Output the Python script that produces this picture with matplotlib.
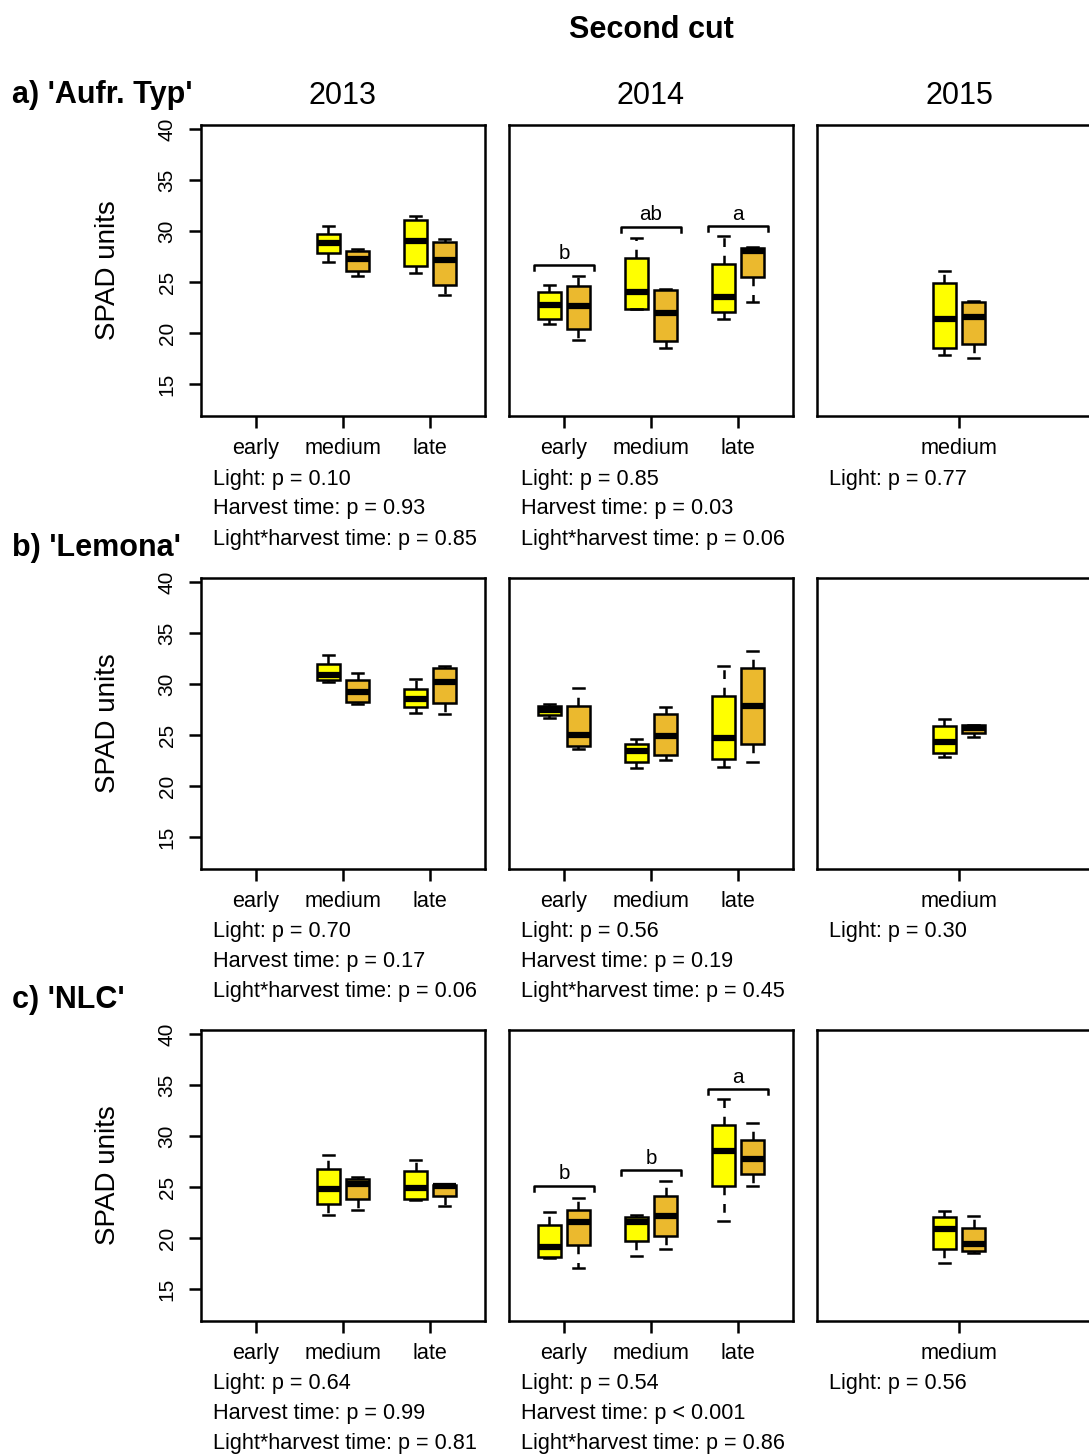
import matplotlib
matplotlib.use("Agg")
import matplotlib.pyplot as plt

plt.rcParams['font.family'] = ['Liberation Sans', 'DejaVu Sans']

# five-number summaries per box: [lower whisker, Q1, median, Q3, upper whisker]
harvest_all = ['early', 'medium', 'late']
harvest_2013 = ['medium', 'late']
harvest_2014 = ['early', 'medium', 'late']
harvest_2015 = ['medium']
harvest_pos = {'early': 1, 'medium': 2, 'late': 3}

aufr_2013_l1 = [[26.96, 27.84, 28.82, 29.68, 30.46], [25.9, 26.63, 29.06, 31.12, 31.45]]
aufr_2013_l2 = [[25.58, 26.14, 27.3, 28.1, 28.3], [23.74, 24.76, 27.15, 28.9, 29.22]]
aufr_2014_l1 = [[20.89, 21.41, 22.73, 24.07, 24.76], [22.4, 22.4, 24.0, 27.41, 29.35],
                [21.38, 22.07, 23.51, 26.82, 29.48]]
aufr_2014_l2 = [[19.38, 20.46, 22.63, 24.66, 25.64], [18.56, 19.25, 21.95, 24.2, 24.37],
                [23.09, 25.52, 28.1, 28.33, 28.5]]
aufr_2015_l1 = [[17.84, 18.53, 21.41, 24.89, 26.07]]
aufr_2015_l2 = [[17.58, 18.93, 21.6, 23.02, 23.15]]

lemona_2013_l1 = [[30.23, 30.42, 30.92, 31.97, 32.85], [27.2, 27.77, 28.55, 29.57, 30.52]]
lemona_2013_l2 = [[28.03, 28.26, 29.21, 30.39, 31.05], [27.08, 28.13, 30.2, 31.54, 31.8]]
lemona_2014_l1 = [[26.68, 26.98, 27.44, 27.86, 28.03], [21.76, 22.42, 23.43, 24.19, 24.68],
                  [21.86, 22.68, 24.74, 28.88, 31.8]]
lemona_2014_l2 = [[23.7, 23.9, 25.07, 27.86, 29.67], [22.58, 23.04, 24.94, 27.08, 27.8],
                  [22.35, 24.12, 27.86, 31.54, 33.25]]
lemona_2015_l1 = [[22.87, 23.24, 24.35, 25.9, 26.58]]
lemona_2015_l2 = [[24.85, 25.25, 25.7, 26.0, 26.05]]

nlc_2013_l1 = [[22.25, 23.33, 24.87, 26.8, 28.14], [23.79, 23.85, 24.93, 26.6, 27.65]]
nlc_2013_l2 = [[22.81, 23.89, 25.36, 25.82, 26.01], [23.14, 24.15, 25.1, 25.26, 25.29]]
nlc_2014_l1 = [[18.1, 18.17, 19.15, 21.34, 22.55], [18.24, 19.71, 21.64, 22.09, 22.32],
               [21.67, 25.13, 28.53, 31.05, 33.6]]
nlc_2014_l2 = [[17.12, 19.35, 21.64, 22.81, 23.99], [18.95, 20.26, 22.19, 24.15, 25.62],
               [25.13, 26.3, 27.75, 29.61, 31.3]]
nlc_2015_l1 = [[17.62, 18.92, 20.91, 22.09, 22.68]]
nlc_2015_l2 = [[18.53, 18.76, 19.41, 20.98, 22.19]]

# harvest time letters (Tukey) and bracket heights for 2014
aufr_2014_letters = ['b', 'ab', 'a']
aufr_2014_bracket = [26.7, 30.45, 30.5]
nlc_2014_letters = ['b', 'b', 'a']
nlc_2014_bracket = [25.17, 26.67, 34.6]

aufr_pvals = [['Light: p = 0.10', 'Harvest time: p = 0.93', 'Light*harvest time: p = 0.85'],
              ['Light: p = 0.85', 'Harvest time: p = 0.03', 'Light*harvest time: p = 0.06'],
              ['Light: p = 0.77']]
lemona_pvals = [['Light: p = 0.70', 'Harvest time: p = 0.17', 'Light*harvest time: p = 0.06'],
                ['Light: p = 0.56', 'Harvest time: p = 0.19', 'Light*harvest time: p = 0.45'],
                ['Light: p = 0.30']]
nlc_pvals = [['Light: p = 0.64', 'Harvest time: p = 0.99', 'Light*harvest time: p = 0.81'],
             ['Light: p = 0.54', 'Harvest time: p < 0.001', 'Light*harvest time: p = 0.86'],
             ['Light: p = 0.56']]

years = ['2013', '2014', '2015']
row_titles = ["a) 'Aufr. Typ'", "b) 'Lemona'", "c) 'NLC'"]

col_l1 = '#FFFF00'
col_l2 = '#EBB92E'
lw = 1.8
small = 15.6

W, H = 1089, 1454
fig = plt.figure(figsize=(W / 100, H / 100), dpi=100)


def px_axes(left, top, width, height):
    return fig.add_axes([left / W, 1 - (top + height) / H, width / W, height / H])


def to_stats(rows):
    out = []
    for lo, q1, med, q3, hi in rows:
        out.append(dict(whislo=lo, q1=q1, med=med, q3=q3, whishi=hi, fliers=[]))
    return out


def draw_panel(ax, groups, ticks, l1, l2, first_col):
    pos = [harvest_pos[g] for g in groups]
    for stats, off, col in ((l1, -0.167, col_l1), (l2, 0.167, col_l2)):
        ax.bxp(to_stats(stats), positions=[p + off for p in pos], widths=0.265,
               capwidths=0.13, patch_artist=True, manage_ticks=False,
               boxprops=dict(facecolor=col, edgecolor='black', linewidth=lw),
               medianprops=dict(color='black', linewidth=4.5, solid_capstyle='butt'),
               whiskerprops=dict(color='black', linewidth=lw, linestyle=(0, (3.5, 3.5))),
               capprops=dict(color='black', linewidth=lw))
    ax.set_xlim(0.37, 3.63)
    ax.set_ylim(11.9, 40.4)
    ax.set_xticks([harvest_pos[t] for t in ticks])
    ax.set_xticklabels(ticks, fontsize=small)
    ax.tick_params(axis='x', length=8.6, width=lw, pad=7.3)
    if first_col:
        ax.set_yticks([15, 20, 25, 30, 35, 40])
        ax.set_yticklabels(['15', '20', '25', '30', '35', '40'], fontsize=15,
                           rotation=90, va='center')
        ax.tick_params(axis='y', length=8.6, width=lw, pad=9)
    else:
        ax.set_yticks([])
    for s in ax.spines.values():
        s.set_linewidth(lw)


def draw_brackets(ax, letters, heights):
    for g, letter, yb in zip(harvest_2014, letters, heights):
        x = harvest_pos[g]
        ax.plot([x - 0.34, x - 0.34, x + 0.34, x + 0.34], [yb - 0.5, yb, yb, yb - 0.5],
                color='black', linewidth=lw)
        ax.text(x, yb + 1.15, letter, ha='center', va='center', fontsize=14.8)


col_left = [201, 509, 817]
row_top = [125, 578, 1030]
panel_w, panel_h = 284, 291

rows = [
    (aufr_2013_l1, aufr_2013_l2, aufr_2014_l1, aufr_2014_l2, aufr_2015_l1, aufr_2015_l2, aufr_pvals),
    (lemona_2013_l1, lemona_2013_l2, lemona_2014_l1, lemona_2014_l2, lemona_2015_l1, lemona_2015_l2, lemona_pvals),
    (nlc_2013_l1, nlc_2013_l2, nlc_2014_l1, nlc_2014_l2, nlc_2015_l1, nlc_2015_l2, nlc_pvals),
]
groups_by_year = [harvest_2013, harvest_2014, harvest_2015]
ticks_by_year = [harvest_all, harvest_all, harvest_2015]

for r, row in enumerate(rows):
    top = row_top[r]
    series = [(row[0], row[1]), (row[2], row[3]), (row[4], row[5])]
    pvals = row[6]
    for c in range(3):
        ax = px_axes(col_left[c], top, panel_w, panel_h)
        draw_panel(ax, groups_by_year[c], ticks_by_year[c], series[c][0], series[c][1], c == 0)
        if c == 1 and r == 0:
            draw_brackets(ax, aufr_2014_letters, aufr_2014_bracket)
        if c == 1 and r == 2:
            draw_brackets(ax, nlc_2014_letters, nlc_2014_bracket)
        for k, line in enumerate(pvals[c]):
            fig.text((col_left[c] + 12) / W, 1 - (top + 354 + 30 * k) / H, line,
                     ha='left', va='center', fontsize=small)
    fig.text(108 / W, 1 - (top + panel_h / 2) / H, 'SPAD units', rotation=90,
             ha='center', va='center', fontsize=20)
    fig.text(12 / W, 1 - (top - 30) / H, row_titles[r], ha='left', va='center',
             fontsize=22, fontweight='bold')

for c, yr in enumerate(years):
    fig.text((col_left[c] + panel_w / 2) / W, 1 - 96 / H, yr, ha='center', va='center',
             fontsize=22)

fig.text(651 / W, 1 - 30 / H, 'Second cut', ha='center', va='center', fontsize=22,
         fontweight='bold')

fig.savefig('out.png', dpi=100)
